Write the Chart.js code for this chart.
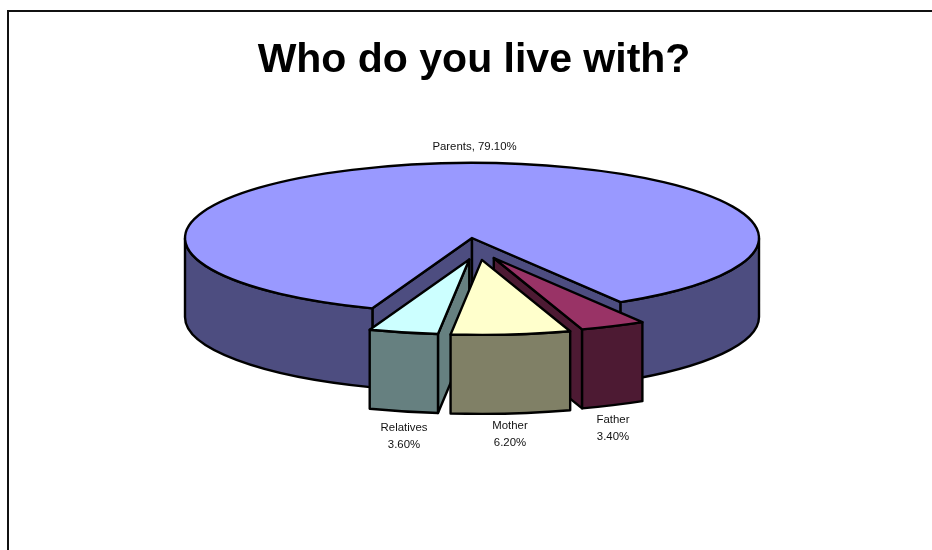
<!DOCTYPE html>
<html>
<head>
<meta charset="utf-8">
<title>Who do you live with?</title>
<script src="https://cdn.jsdelivr.net/npm/chart.js@4"></script>
<style>
    html, body { margin: 0; padding: 0; background: #fff; overflow: hidden; }
    #wrap { position: absolute; left: 0; top: 0; width: 932px; height: 550px; overflow: hidden; }
    #frame { position: absolute; left: 7px; top: 10px; width: 940px; height: 560px;
             border-left: 2px solid #111; border-top: 2px solid #111; }
    #pie { position: absolute; left: 0; top: 0; }
</style>
</head>
<body>
<div id="wrap">
    <div id="frame"></div>
    <canvas id="pie" width="932" height="550"></canvas>
</div>
<script>
// Data (clockwise from the left edge of the notch)
const categories = ['Parents', 'Father', 'Mother', 'Relatives'];
const values = [79.1, 3.4, 6.2, 3.6];

// Slice colours: top face, wall
const topColors = ['#9999ff', '#993366', '#ffffcc', '#ccffff'];
const wallColors = ['#4d4d80', '#4d1a33', '#808066', '#668080'];

// Fake 3D settings
const TILT = 75 / 287;       // vertical squash of the disc
const DEPTH = 79;            // wall height
const EXPLODE_X = 38;        // how far exploded slices move sideways
const EXPLODE_Y = 22;        // and downwards
const EXPLODE_SHIFT = 6;
const PIE_SHIFT = -2;        // title centre sits 2px right of the pie centre
const exploded = [false, true, true, true];
const drawOrder = [0, 1, 3, 2];

// Where the text sits
const labelSpots = [
    { x: 474.5, y: 147, oneLine: true },
    { x: 613, y: 420 },
    { x: 510, y: 426 },
    { x: 404, y: 428 }
];

function point(arc, angle, dx, dy) {
    return {
        x: arc.x + dx + Math.cos(angle) * arc.outerRadius,
        y: arc.y + dy + Math.sin(angle) * arc.outerRadius * TILT
    };
}

// Outer wall between two angles, only the part facing the viewer
function drawRim(ctx, arc, dx, dy, color) {
    for (let k = -1; k <= 2; k++) {
        const from = Math.max(arc.startAngle, k * 2 * Math.PI);
        const to = Math.min(arc.endAngle, k * 2 * Math.PI + Math.PI);
        if (from >= to) continue;
        const r = arc.outerRadius;
        ctx.beginPath();
        ctx.ellipse(arc.x + dx, arc.y + dy, r, r * TILT, 0, from, to);
        ctx.ellipse(arc.x + dx, arc.y + dy + DEPTH, r, r * TILT, 0, to, from, true);
        ctx.closePath();
        ctx.fillStyle = color;
        ctx.fill();
        ctx.stroke();
    }
}

// Flat wall from the centre out to the rim
function drawCut(ctx, arc, angle, dx, dy, color) {
    const p = point(arc, angle, dx, dy);
    ctx.beginPath();
    ctx.moveTo(arc.x + dx, arc.y + dy);
    ctx.lineTo(p.x, p.y);
    ctx.lineTo(p.x, p.y + DEPTH);
    ctx.lineTo(arc.x + dx, arc.y + dy + DEPTH);
    ctx.closePath();
    ctx.fillStyle = color;
    ctx.fill();
    ctx.stroke();
}

const pie3d = {
    id: 'pie3d',
    beforeDatasetsDraw(chart) {
        const ctx = chart.ctx;
        const arcs = chart.getDatasetMeta(0).data;

        ctx.save();
        ctx.translate(PIE_SHIFT, 0);
        ctx.lineWidth = 2.4;
        ctx.lineJoin = 'round';
        ctx.strokeStyle = '#000';

        drawOrder.forEach(i => {
            const arc = arcs[i];
            const mid = (arc.startAngle + arc.endAngle) / 2;
            const dx = exploded[i] ? EXPLODE_SHIFT + Math.cos(mid) * EXPLODE_X : 0;
            const dy = exploded[i] ? Math.sin(mid) * EXPLODE_Y : 0;

            // walls, back to front
            if (Math.cos(arc.startAngle) < 0) drawCut(ctx, arc, arc.startAngle, dx, dy, wallColors[i]);
            if (Math.cos(arc.endAngle) > 0) drawCut(ctx, arc, arc.endAngle, dx, dy, wallColors[i]);
            drawRim(ctx, arc, dx, dy, wallColors[i]);

            // top face: the library's own arc, squashed
            ctx.save();
            ctx.translate(arc.x + dx, arc.y + dy);
            ctx.scale(1, TILT);
            ctx.translate(-arc.x, -arc.y);
            arc.draw(ctx);
            ctx.restore();

            // outline of top face, kept out of the squash so the pen stays round
            const r = arc.outerRadius;
            ctx.beginPath();
            ctx.moveTo(arc.x + dx, arc.y + dy);
            ctx.ellipse(arc.x + dx, arc.y + dy, r, r * TILT, 0, arc.startAngle, arc.endAngle);
            ctx.closePath();
            ctx.stroke();
        });

        ctx.restore();
        return false;
    },
    afterDraw(chart) {
        const ctx = chart.ctx;
        ctx.save();
        ctx.font = '11.4px "Liberation Sans", Arial, sans-serif';
        ctx.fillStyle = '#111';
        ctx.textAlign = 'center';
        ctx.textBaseline = 'middle';
        categories.forEach((name, i) => {
            const pct = values[i].toFixed(2) + '%';
            const spot = labelSpots[i];
            if (spot.oneLine) {
                ctx.fillText(name + ', ' + pct, spot.x, spot.y);
            } else {
                ctx.fillText(name, spot.x, spot.y);
                ctx.fillText(pct, spot.x, spot.y + 17);
            }
        });
        ctx.restore();
    }
};

new Chart(document.getElementById('pie').getContext('2d'), {
    type: 'pie',
    plugins: [pie3d],
    data: {
        labels: categories,
        datasets: [{
            data: values,
            backgroundColor: topColors,
            borderWidth: 0,
            hoverOffset: 0
        }]
    },
    options: {
        responsive: false,
        animation: false,
        events: [],
        rotation: 200.3,
        radius: 287,
        layout: { padding: { left: 16, bottom: 169.2 } },
        plugins: {
            legend: { display: false },
            tooltip: { enabled: false },
            title: {
                display: true,
                text: 'Who do you live with?',
                color: '#000',
                font: { family: '"Liberation Sans", Arial, sans-serif', size: 41, weight: 'bold', lineHeight: 1.2 },
                padding: { top: 36, bottom: 10 }
            }
        }
    }
});
</script>
</body>
</html>
